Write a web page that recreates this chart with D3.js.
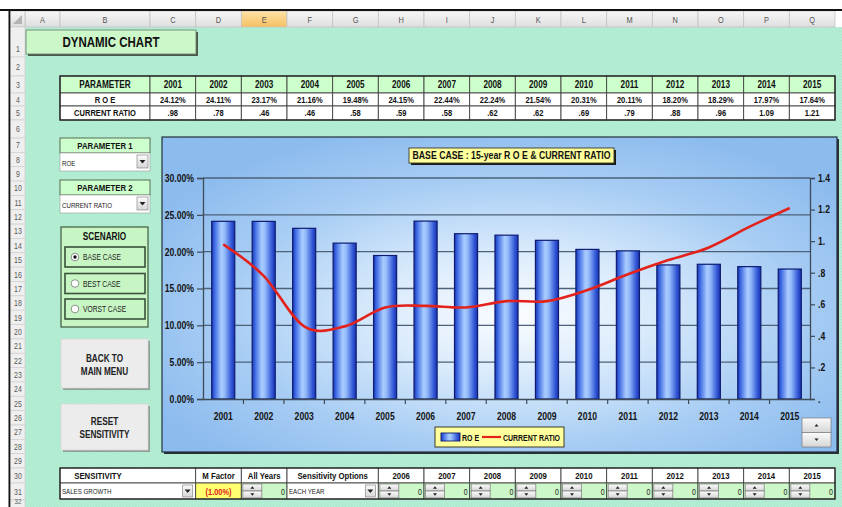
<!DOCTYPE html>
<html><head><meta charset="utf-8">
<script src="https://cdn.jsdelivr.net/npm/d3@7"></script>
<style>
body{margin:0;background:#fff;}
svg{display:block;font-family:'Liberation Sans Narrow','Arial Narrow','Liberation Sans',Arial,sans-serif;}
</style>
</head><body>
<svg id="c" width="842" height="507"></svg>
<script>
// ---------- DATA ----------
const years = ['2001','2002','2003','2004','2005','2006','2007','2008','2009','2010','2011','2012','2013','2014','2015'];
const roe = [24.12,24.11,23.17,21.16,19.48,24.15,22.44,22.24,21.54,20.31,20.11,18.20,18.29,17.97,17.64];
const currentRatio = [0.98,0.78,0.46,0.46,0.58,0.59,0.58,0.62,0.62,0.69,0.79,0.88,0.96,1.09,1.21];
const leftTickValues = [0,5,10,15,20,25,30];
const rightTickValues = [0,0.2,0.4,0.6,0.8,1.0,1.2,1.4];
const rightTickLabels = ['.','.2','.4','.6','.8','1.','1.2','1.4'];
const columnLetters = ['A','B','C','D','E','F','G','H','I','J','K','L','M','N','O','P','Q'];
const scenarios = ['BASE CASE','BEST CASE','VORST CASE'];
const sensYears = ['2006','2007','2008','2009','2010','2011','2012','2013','2014','2015'];
const chartTitle = 'BASE CASE : 15-year R O E & CURRENT RATIO';
const legendLabels = ['RO E','CURRENT RATIO'];

// ---------- LAYOUT ----------
const svg = d3.select('#c');
const defs = svg.append('defs');

const pat = defs.append('pattern').attr('id','hatch').attr('width',3).attr('height',3).attr('patternUnits','userSpaceOnUse');
pat.append('rect').attr('width',3).attr('height',3).attr('fill','#b5efd6');
pat.append('path').attr('d','M0,3L3,0').attr('stroke','#a3e2c4').attr('stroke-width',0.7);

const colHead = defs.append('linearGradient').attr('id','colHead').attr('x1',0).attr('x2',0).attr('y1',0).attr('y2',1);
colHead.append('stop').attr('offset',0).attr('stop-color','#f7f7f7');
colHead.append('stop').attr('offset',1).attr('stop-color','#dedede');
const colHeadSel = defs.append('linearGradient').attr('id','colHeadSel').attr('x1',0).attr('x2',0).attr('y1',0).attr('y2',1);
colHeadSel.append('stop').attr('offset',0).attr('stop-color','#fde3a8');
colHeadSel.append('stop').attr('offset',1).attr('stop-color','#f6bf62');

const bg = defs.append('radialGradient').attr('id','chartBg').attr('cx',0.52).attr('cy',0.56).attr('r',0.62);
[[0,'#fbfdff'],[0.3,'#dcecfc'],[0.68,'#a8cdf4'],[1,'#8cbbee']].forEach(s=>bg.append('stop').attr('offset',s[0]).attr('stop-color',s[1]));

const barG = defs.append('linearGradient').attr('id','barG').attr('x1',0).attr('x2',1).attr('y1',0).attr('y2',0);
[[0,'#1a36b4'],[0.12,'#3c68e2'],[0.42,'#aacdff'],[0.56,'#94bbfa'],[0.86,'#3156d6'],[1,'#1a32ac']].forEach(s=>barG.append('stop').attr('offset',s[0]).attr('stop-color',s[1]));

const btnG = defs.append('linearGradient').attr('id','btnG').attr('x1',0).attr('x2',0).attr('y1',0).attr('y2',1);
btnG.append('stop').attr('offset',0).attr('stop-color','#fbfbfb');
btnG.append('stop').attr('offset',1).attr('stop-color','#d6d6d6');

svg.append('rect').attr('width',842).attr('height',507).attr('fill','#fff');
svg.append('rect').attr('x',25).attr('y',27).attr('width',817).attr('height',480).attr('fill','url(#hatch)');

const colLeft = [25,60];
for(let k=0;k<=15;k++) colLeft.push(150+k*45.667);
const rowTop = [27,57,76,93,106,120];
for(let n=7;n<=29;n++) rowTop.push(138+(n-7)*14.35);
rowTop.push(468,483,500,514);

// column header
const ch = svg.append('g');
columnLetters.forEach((L,i)=>{
  const x0 = colLeft[i], x1 = i+1<colLeft.length?colLeft[i+1]:850;
  ch.append('rect').attr('x',x0).attr('y',11).attr('width',x1-x0).attr('height',16)
    .attr('fill', L==='E'?'url(#colHeadSel)':'url(#colHead)').attr('stroke','#c4c4c4').attr('stroke-width',0.8);
  ch.append('text').attr('x',(x0+x1)/2).attr('y',22.5).attr('text-anchor','middle')
    .attr('font-size',9).attr('fill','#555').text(L);
});
ch.append('rect').attr('x',10).attr('y',11).attr('width',15).attr('height',16).attr('fill','url(#colHead)').attr('stroke','#c4c4c4').attr('stroke-width',0.8);
ch.append('path').attr('d','M22,15L22,24L13,24Z').attr('fill','#b4b4b4');

// row header
const rh = svg.append('g');
for(let n=1;n<=32;n++){
  const y0=rowTop[n-1], y1=rowTop[n];
  rh.append('rect').attr('x',10).attr('y',y0).attr('width',15).attr('height',y1-y0)
    .attr('fill','#efefef').attr('stroke','#cfcfcf').attr('stroke-width',0.7);
  let ty = n===1 ? y1-5 : (y0+y1)/2+3.2;
  if(n===32) ty = 504;
  rh.append('text').attr('x',18).attr('y',ty).attr('text-anchor','middle')
    .attr('font-size', n===32?7.5:8.5).attr('fill','#5a5a5a').text(n);
}
svg.append('rect').attr('x',0).attr('y',9).attr('width',842).attr('height',2).attr('fill','#111');
svg.append('rect').attr('x',8.5).attr('y',9).attr('width',1.8).attr('height',498).attr('fill','#111');

// DYNAMIC CHART box
svg.append('rect').attr('x',28).attr('y',32).attr('width',170).attr('height',24).attr('fill','#4a5a4a');
svg.append('rect').attr('x',26).attr('y',30).attr('width',170).attr('height',24).attr('fill','#ccf7c8').attr('stroke','#6a7a6a').attr('stroke-width',0.8);
svg.append('text').attr('x',111).attr('y',47).attr('text-anchor','middle').attr('font-size',14)
  .attr('font-weight','bold').attr('fill','#111').text('DYNAMIC CHART');

// TOP TABLE
const tt = svg.append('g');
const tRows = [76,93,106,120];
const tLabels = ['PARAMETER','R O E','CURRENT RATIO'];
const roeLabels = roe.map(v=>d3.format('.2f')(v)+'%');
const crLabels = currentRatio.map(v=>d3.format('.2f')(v).replace(/^0/,''));
for(let r=0;r<3;r++){
  for(let c=1;c<17;c++){
    const x0=colLeft[c], x1=colLeft[c+1];
    tt.append('rect').attr('x',x0).attr('y',tRows[r]).attr('width',x1-x0).attr('height',tRows[r+1]-tRows[r])
      .attr('fill', r===0?'#ccffcc':'#fff').attr('stroke','#444').attr('stroke-width',0.9);
    let txt = c===1 ? tLabels[r] : (r===0?years[c-2]:(r===1?roeLabels[c-2]:crLabels[c-2]));
    tt.append('text').attr('x',(x0+x1)/2).attr('y',(tRows[r]+tRows[r+1])/2+3.4).attr('text-anchor','middle')
      .attr('font-size', r===0?10:9.2).attr('font-weight','bold').attr('fill','#111').text(txt);
  }
}
tt.append('rect').attr('x',60).attr('y',76).attr('width',775).attr('height',44).attr('fill','none').attr('stroke','#222').attr('stroke-width',1.3);

function dropArrow(g,x,y,w,h){
  g.append('rect').attr('x',x).attr('y',y).attr('width',w).attr('height',h).attr('fill','url(#btnG)').attr('stroke','#8a8a8a').attr('stroke-width',0.7);
  const cx=x+w/2, cy=y+h/2;
  g.append('path').attr('d',`M${cx-3},${cy-1.5}L${cx+3},${cy-1.5}L${cx},${cy+2}Z`).attr('fill','#222');
}
function spinner(g,x,y,w,h){
  [0,1].forEach(i=>{
    const yy=y+i*h/2;
    g.append('rect').attr('x',x).attr('y',yy).attr('width',w).attr('height',h/2).attr('fill','url(#btnG)').attr('stroke','#7a7a7a').attr('stroke-width',0.7);
    const cx=x+w/2, cy=yy+h/4;
    g.append('path').attr('d', i===0?`M${cx-2},${cy+1.2}L${cx+2},${cy+1.2}L${cx},${cy-1.3}Z`:`M${cx-2},${cy-1.2}L${cx+2},${cy-1.2}L${cx},${cy+1.3}Z`).attr('fill','#222');
  });
}

// LEFT PANEL
const lp = svg.append('g');
function paramBox(y, title, value){
  lp.append('rect').attr('x',60).attr('y',y).attr('width',90).attr('height',15).attr('fill','#ccffcc').attr('stroke','#4c5c4c').attr('stroke-width',0.9);
  lp.append('text').attr('x',105).attr('y',y+11).attr('text-anchor','middle').attr('font-size',9.5).attr('font-weight','bold').attr('fill','#111').text(title);
  lp.append('rect').attr('x',60).attr('y',y+15).attr('width',90).attr('height',18).attr('fill','#fff').attr('stroke','#9a9a9a').attr('stroke-width',0.6);
  lp.append('text').attr('x',62).attr('y',y+27.5).attr('font-size',7.5).attr('fill','#222').text(value);
  dropArrow(lp,137,y+17,11,13);
}
paramBox(138,'PARAMETER 1','ROE');
paramBox(180,'PARAMETER 2','CURRENT RATIO');

lp.append('rect').attr('x',61).attr('y',227).attr('width',87).attr('height',100).attr('fill','#c8f5c4').attr('stroke','#3f5a3f').attr('stroke-width',1.2);
lp.append('text').attr('x',104.5).attr('y',240).attr('text-anchor','middle').attr('font-size',10).attr('font-weight','bold').attr('fill','#111').text('SCENARIO');
const optY = [247,273.5,299];
scenarios.forEach((s,i)=>{
  const y=optY[i];
  lp.append('rect').attr('x',65).attr('y',y).attr('width',80).attr('height',20).attr('fill','#c8f5c4').attr('stroke','#3a523a').attr('stroke-width',1.6);
  lp.append('circle').attr('cx',75).attr('cy',y+10).attr('r',3.8).attr('fill','#fff').attr('stroke','#777').attr('stroke-width',0.8);
  if(i===0) lp.append('circle').attr('cx',75).attr('cy',y+10).attr('r',1.7).attr('fill','#111');
  lp.append('text').attr('x',83).attr('y',y+13).attr('font-size',8.2).attr('fill','#222').text(s);
});

function bigButton(y,h,l1,l2){
  lp.append('rect').attr('x',63).attr('y',y+2).attr('width',87).attr('height',h).attr('fill','#8f9f96');
  lp.append('rect').attr('x',61).attr('y',y).attr('width',87).attr('height',h).attr('fill','#ececec').attr('stroke','#d8d8d8').attr('stroke-width',0.8);
  lp.append('text').attr('x',104.5).attr('y',y+h/2-2).attr('text-anchor','middle').attr('font-size',10).attr('font-weight','bold').attr('fill','#222').text(l1);
  lp.append('text').attr('x',104.5).attr('y',y+h/2+11).attr('text-anchor','middle').attr('font-size',10).attr('font-weight','bold').attr('fill','#222').text(l2);
}
bigButton(339,49,'BACK TO','MAIN MENU');
bigButton(404,46,'RESET','SENSITIVITY');

// CHART
const cg = svg.append('g');
cg.append('rect').attr('x',164).attr('y',139).attr('width',675).attr('height',315).attr('fill','#2a3038');
cg.append('rect').attr('x',162).attr('y',137).attr('width',675).attr('height',315).attr('fill','url(#chartBg)').attr('stroke','#24303c').attr('stroke-width',1.2);

const x = d3.scaleBand().domain(years).range([203,810]);
const yL = d3.scaleLinear().domain([0,30]).range([399,178]);
const yR = d3.scaleLinear().domain([0,1.4]).range([399,178]);

cg.append('g').selectAll('line').data(leftTickValues.filter(d=>d>0)).join('line')
  .attr('x1',203).attr('x2',810).attr('y1',d=>yL(d)).attr('y2',d=>yL(d))
  .attr('stroke','#4d6278').attr('stroke-width',1.3);

const bw = x.bandwidth()*0.57;
cg.append('g').selectAll('rect').data(years).join('rect')
  .attr('x',d=>x(d)+(x.bandwidth()-bw)/2).attr('width',bw)
  .attr('y',(d,i)=>yL(roe[i])).attr('height',(d,i)=>yL(0)-yL(roe[i]))
  .attr('fill','url(#barG)').attr('stroke','#0e1c72').attr('stroke-width',1.2);

const line = d3.line().x((d,i)=>x(years[i])+x.bandwidth()/2).y(d=>yR(d)).curve(d3.curveCardinal.tension(0));
cg.append('path').datum(currentRatio).attr('d',line).attr('fill','none').attr('stroke','#e3221c').attr('stroke-width',2.6);

const axL = cg.append('g').attr('transform','translate(203,0)')
  .call(d3.axisLeft(yL).tickValues(leftTickValues).tickFormat(d=>d3.format('.2f')(d)+'%').tickSize(6).tickPadding(3));
const axR = cg.append('g').attr('transform','translate(810,0)')
  .call(d3.axisRight(yR).tickValues(rightTickValues).tickFormat((d,i)=>rightTickLabels[i]).tickSize(5).tickPadding(3));
const axB = cg.append('g').attr('transform','translate(0,399)')
  .call(d3.axisBottom(x).tickSize(0).tickPadding(14));
[axL,axR,axB].forEach(a=>{
  a.select('.domain').attr('stroke','#3e4c5a').attr('stroke-width',1.3);
  a.selectAll('.tick line').attr('stroke','#3e4c5a').attr('stroke-width',1.2);
  a.selectAll('text').attr('font-size',10.5).attr('font-weight','bold').attr('fill','#141414').attr('font-family',null);
});
axB.select('.domain').attr('stroke-width',1.6);
cg.append('g').selectAll('line').data(years.slice(1)).join('line')
  .attr('x1',d=>x(d)).attr('x2',d=>x(d)).attr('y1',399).attr('y2',404)
  .attr('stroke','#3e4c5a').attr('stroke-width',1.2);

// title box
cg.append('rect').attr('x',411).attr('y',150).attr('width',205).attr('height',15).attr('fill','#1a1a1a');
cg.append('rect').attr('x',409).attr('y',148).attr('width',205).attr('height',15).attr('fill','#ffff9c').attr('stroke','#3a3a2a').attr('stroke-width',0.9);
cg.append('text').attr('x',511.5).attr('y',159.3).attr('text-anchor','middle').attr('font-size',10.2).attr('font-weight','bold').attr('fill','#111').attr('data-w',198).text(chartTitle);

// legend
cg.append('rect').attr('x',435).attr('y',427).attr('width',129).attr('height',20).attr('fill','#ffff9c').attr('stroke','#3a3a2a').attr('stroke-width',1);
cg.append('rect').attr('x',441).attr('y',433).attr('width',19).attr('height',8).attr('fill','url(#barG)').attr('stroke','#0e1c72').attr('stroke-width',0.9);
cg.append('text').attr('x',462).attr('y',440.5).attr('font-size',8.6).attr('font-weight','bold').attr('fill','#111').text(legendLabels[0]);
cg.append('line').attr('x1',482).attr('x2',501).attr('y1',437).attr('y2',437).attr('stroke','#e3221c').attr('stroke-width',2.2);
cg.append('text').attr('x',503).attr('y',440.5).attr('font-size',8.6).attr('font-weight','bold').attr('fill','#111').attr('data-w',57).text(legendLabels[1]);

spinner(cg,802,418,29,29);

// BOTTOM SENSITIVITY TABLE
const bt = svg.append('g');
const bY0=468, bY1=483, bY2=499;
const bCols = [
  {x0:colLeft[1], x1:colLeft[3], head:'SENSITIVITY', hx:98},
  {x0:colLeft[3], x1:colLeft[4], head:'M Factor'},
  {x0:colLeft[4], x1:colLeft[5], head:'All Years'},
  {x0:colLeft[5], x1:colLeft[7], head:'Sensitivity Options'}
];
sensYears.forEach((yv,i)=>bCols.push({x0:colLeft[7+i], x1:colLeft[8+i], head:yv}));
bCols.forEach((c,i)=>{
  bt.append('rect').attr('x',c.x0).attr('y',bY0).attr('width',c.x1-c.x0).attr('height',bY1-bY0).attr('fill','#fff').attr('stroke','#444').attr('stroke-width',0.9);
  bt.append('text').attr('x',c.hx||(c.x0+c.x1)/2).attr('y',bY0+11).attr('text-anchor','middle')
    .attr('font-size',9.5).attr('font-weight','bold').attr('fill','#111').text(c.head);
  if(i===0){
    bt.append('rect').attr('x',c.x0).attr('y',bY1).attr('width',c.x1-c.x0).attr('height',bY2-bY1).attr('fill','#fff').attr('stroke','#444').attr('stroke-width',0.9);
    bt.append('text').attr('x',c.x0+2).attr('y',bY1+11).attr('font-size',7.5).attr('fill','#222').text('SALES GROWTH');
    dropArrow(bt,c.x1-13,bY1+2,10,12);
  } else if(i===1){
    bt.append('rect').attr('x',c.x0).attr('y',bY1).attr('width',c.x1-c.x0).attr('height',bY2-bY1).attr('fill','#ffff70').attr('stroke','#444').attr('stroke-width',0.9);
    bt.append('text').attr('x',(c.x0+c.x1)/2).attr('y',bY1+11.5).attr('text-anchor','middle').attr('font-size',9).attr('font-weight','bold').attr('fill','#e0201a').text('(1.00%)');
  } else if(i===3){
    bt.append('rect').attr('x',c.x0).attr('y',bY1).attr('width',c.x1-c.x0).attr('height',bY2-bY1).attr('fill','#fff').attr('stroke','#444').attr('stroke-width',0.9);
    bt.append('text').attr('x',c.x0+2).attr('y',bY1+11).attr('font-size',7.5).attr('fill','#222').text('EACH YEAR');
    dropArrow(bt,c.x1-13,bY1+2,10,12);
  } else {
    bt.append('rect').attr('x',c.x0).attr('y',bY1).attr('width',c.x1-c.x0).attr('height',bY2-bY1).attr('fill','#ccf7c8').attr('stroke','#444').attr('stroke-width',0.9);
    spinner(bt,c.x0+1.5,bY1+1,19,14);
    bt.append('text').attr('x',c.x1-2).attr('y',bY1+11.5).attr('text-anchor','end').attr('font-size',8.5).attr('fill','#222').text('0');
  }
});
bt.append('rect').attr('x',60).attr('y',bY0).attr('width',775).attr('height',bY2-bY0).attr('fill','none').attr('stroke','#222').attr('stroke-width',1.2);

// condense all text to imitate a narrow face (the narrow font is not installed)
svg.selectAll('text').each(function(){
  const w = this.getComputedTextLength();
  if(!w) return;
  const target = this.getAttribute('data-w') ? +this.getAttribute('data-w') : w*0.82;
  this.setAttribute('textLength', Math.min(target, w));
  this.setAttribute('lengthAdjust','spacingAndGlyphs');
});
</script>
</body></html>
